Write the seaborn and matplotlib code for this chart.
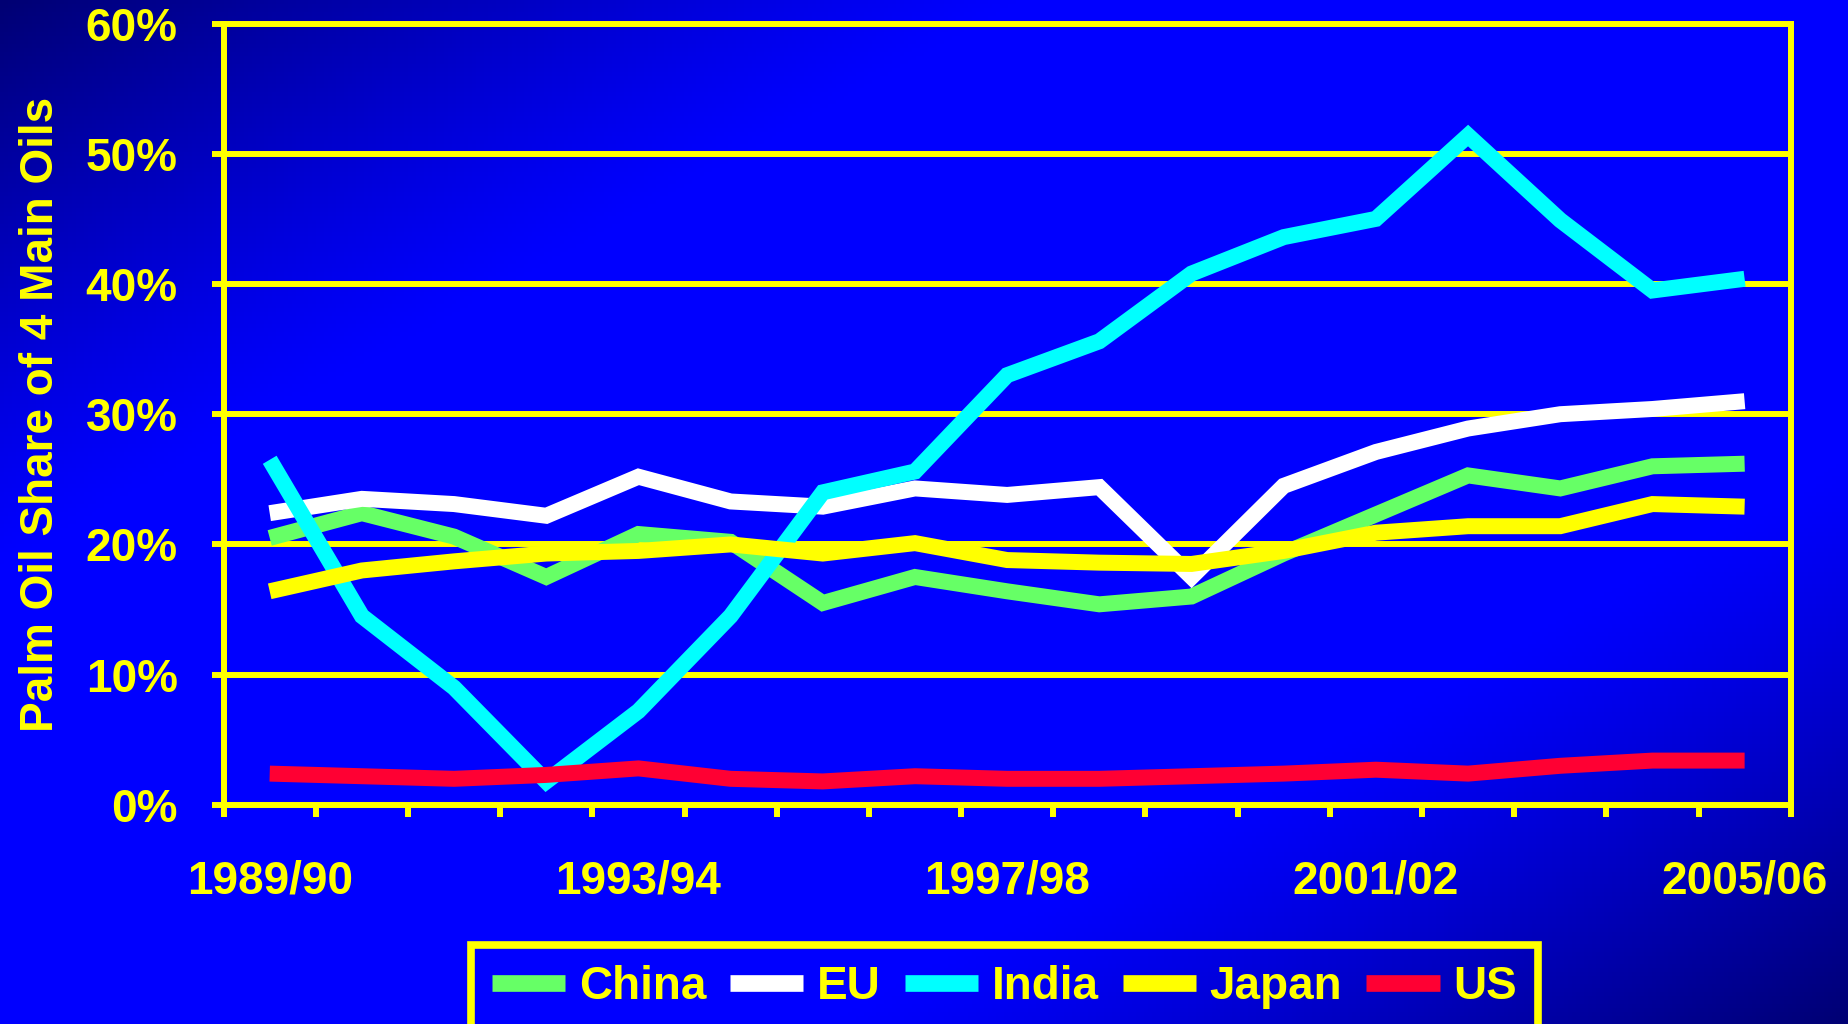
import numpy as np
import pandas as pd
import matplotlib
matplotlib.use("Agg")
import matplotlib.pyplot as plt
import seaborn as sns
from matplotlib.lines import Line2D

years = ["1989/90", "1990/91", "1991/92", "1992/93", "1993/94", "1994/95", "1995/96",
         "1996/97", "1997/98", "1998/99", "1999/00", "2000/01", "2001/02", "2002/03",
         "2003/04", "2004/05", "2005/06"]
china = [20.5, 22.4, 20.6, 17.5, 20.8, 20.2, 15.5, 17.5, 16.4, 15.4, 16.0, 19.3, 22.3, 25.3, 24.3, 26.0, 26.2]
eu    = [22.4, 23.5, 23.1, 22.2, 25.2, 23.3, 22.9, 24.3, 23.8, 24.4, 17.5, 24.5, 27.1, 28.9, 30.0, 30.4, 31.0]
india = [26.5, 14.5, 9.0, 1.8, 7.2, 14.5, 24.0, 25.6, 33.0, 35.6, 40.8, 43.6, 45.0, 51.4, 44.9, 39.5, 40.4]
japan = [16.4, 18.0, 18.7, 19.3, 19.5, 20.0, 19.3, 20.1, 18.8, 18.6, 18.5, 19.5, 20.9, 21.4, 21.4, 23.1, 22.9]
us    = [2.4, 2.2, 2.0, 2.3, 2.8, 2.0, 1.8, 2.2, 2.0, 2.0, 2.2, 2.4, 2.7, 2.4, 3.0, 3.4, 3.4]
series_names = ["China", "EU", "India", "Japan", "US"]
series_colors = ["#66FF66", "#FFFFFF", "#00FFFF", "#FFFF00", "#FF0033"]
ytick_vals = [0, 10, 20, 30, 40, 50, 60]
ytick_labels = ["0%", "10%", "20%", "30%", "40%", "50%", "60%"]
xlabel_idx = [0, 4, 8, 12, 16]
ylabel_text = "Palm Oil Share of 4 Main Oils"

rows = []
for name, vals in zip(series_names, [china, eu, india, japan, us]):
    for i, v in enumerate(vals):
        rows.append({"idx": i, "year": years[i], "val": v, "country": name})
df = pd.DataFrame(rows)

sns.set_theme(style="white")
plt.rcParams["font.family"] = ["Liberation Sans", "DejaVu Sans"]
plt.rcParams["font.weight"] = "bold"

YEL = "#FFFF00"
fig = plt.figure(figsize=(18.48, 10.24), dpi=100)

# gradient background
H, W = 256, 462
xs = np.linspace(0, 1, W)[None, :]
ys = np.linspace(0, 1, H)[:, None]
d = np.abs(xs + ys - 1.0)
t = np.clip((d - 0.45) / 0.55, 0, 1) ** 1.2
blue = (255 - (255 - 115) * t) / 255.0
img = np.zeros((H, W, 3))
img[..., 2] = blue
bg = fig.add_axes([0, 0, 1, 1], zorder=-5)
bg.imshow(img, aspect="auto", extent=[0, 1, 0, 1], origin="upper")
bg.axis("off")

ax = fig.add_axes([0.121, 0.214, 0.848, 0.763])
ax.set_facecolor("none")

palette = dict(zip(series_names, series_colors))
sns.lineplot(data=df, x="idx", y="val", hue="country", palette=palette,
             linewidth=11.5, ax=ax, legend=False, zorder=3)
for ln in ax.lines:
    ln.set_solid_joinstyle("miter")
    ln.set_solid_capstyle("butt")

ax.set_xlim(-0.5, 16.5)
ax.set_ylim(0, 60)
ax.set_yticks(ytick_vals)
ax.set_yticklabels(ytick_labels)
ax.set_xticks(xlabel_idx)
ax.set_xticklabels([years[i] for i in xlabel_idx])
ax.set_xticks(np.arange(-0.5, 17, 1.0), minor=True)

ax.grid(False)
for yv in ytick_vals[1:-1]:
    ax.axhline(yv, color=YEL, lw=4.3, zorder=1)

for sp in ax.spines.values():
    sp.set_color(YEL)
    sp.set_linewidth(4.3)
    sp.set_visible(True)

ax.tick_params(axis="y", which="major", direction="out", length=9, width=4.3,
               color=YEL, labelcolor=YEL, labelsize=33, pad=24, left=True)
ax.tick_params(axis="x", which="major", length=0, labelcolor=YEL, labelsize=33, pad=39)
ax.tick_params(axis="x", which="minor", direction="out", length=8.5, width=4.3,
               color=YEL, bottom=True)
for lab in ax.get_xticklabels() + ax.get_yticklabels():
    lab.set_fontweight("bold")

ax.set_xlabel("")
ax.set_ylabel(ylabel_text, color=YEL, fontsize=33, fontweight="bold", labelpad=16)

handles = [Line2D([0], [0], color=c, lw=12, solid_capstyle="butt") for c in series_colors]
leg = fig.legend(handles, series_names, loc="upper center", bbox_to_anchor=(0.5435, 0.0775),
                 ncol=5, frameon=True, fancybox=False, fontsize=33, framealpha=1,
                 handlelength=1.6, handletextpad=0.3, columnspacing=0.52,
                 borderpad=0.45, borderaxespad=0)
leg.get_frame().set_edgecolor(YEL)
leg.get_frame().set_linewidth(5.5)
leg.get_frame().set_facecolor("none")
for txt in leg.get_texts():
    txt.set_color(YEL)
    txt.set_fontweight("bold")

fig.savefig("out.png", dpi=100)
